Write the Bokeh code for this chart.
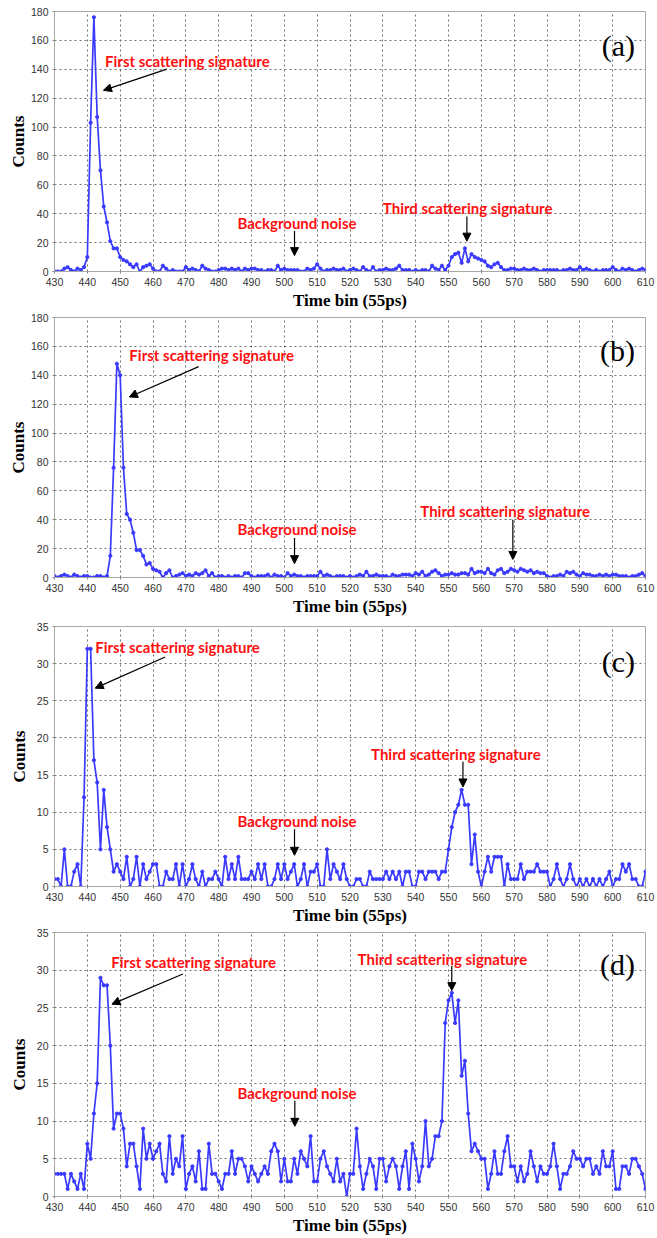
from bokeh.plotting import figure
from bokeh.layouts import column
from bokeh.models import Range1d, FixedTicker, Label, Arrow, NormalHead
from bokeh.embed import file_html
from bokeh.resources import INLINE

bins = list(range(430, 611))

counts_a = [0,0,0,2,3,1,0,2,1,3,
            10,103,176,107,70,45,34,21,16,16,
            10,8,7,5,3,5,0,3,4,5,
            2,0,0,4,2,0,1,0,0,0,
            3,1,2,1,0,4,2,1,0,0,
            1,2,2,1,2,1,2,0,2,1,
            2,2,1,1,0,1,1,0,4,1,
            2,1,1,1,1,0,0,2,1,2,
            5,2,0,1,1,2,1,1,2,0,
            1,2,1,0,3,1,0,3,0,1,
            1,2,1,1,2,4,1,1,1,0,
            1,0,1,1,0,4,2,1,4,1,
            4,10,12,13,6,16,7,12,10,9,
            8,7,4,3,5,6,3,1,1,2,
            2,1,1,2,1,1,2,1,0,1,
            1,1,1,1,0,1,1,2,1,1,
            3,1,2,1,0,1,0,1,1,1,
            3,1,0,2,1,2,1,0,1,2,1]

counts_b = [1,0,1,2,1,0,2,1,0,1,
            1,0,0,1,1,0,1,15,76,148,
            140,76,44,40,31,19,19,15,9,10,
            6,5,4,0,3,5,0,1,2,3,
            1,2,1,3,2,3,5,1,3,0,
            1,1,0,1,0,1,1,0,3,3,
            1,0,1,1,1,2,0,2,1,1,
            0,3,1,2,1,1,0,1,1,1,
            1,4,1,2,1,0,1,1,1,0,
            1,0,1,2,1,4,1,1,2,1,
            1,1,0,2,1,1,2,2,2,1,
            3,2,4,1,2,4,5,3,1,2,
            2,3,2,2,3,3,2,6,3,4,
            4,3,6,3,2,5,6,3,4,6,
            5,4,6,5,4,5,3,4,3,3,
            1,0,1,1,2,1,4,3,4,2,
            1,3,2,2,1,1,2,1,2,1,
            2,2,1,1,1,0,1,1,2,3,1]

counts_c = [1,1,0,5,0,0,2,3,0,12,
            32,32,17,14,5,13,8,5,2,3,
            2,1,4,0,1,4,0,3,1,2,
            3,3,0,0,2,1,1,3,0,3,
            0,1,3,1,0,2,0,1,1,2,
            1,0,4,1,3,1,4,1,1,1,
            2,1,3,1,3,0,0,1,3,1,
            3,1,2,3,0,1,3,0,2,2,
            3,0,0,5,1,3,2,1,3,1,
            0,0,1,1,0,0,2,1,1,1,
            1,2,1,2,1,2,0,2,2,0,
            0,2,2,1,2,2,2,1,2,2,
            5,8,10,11,13,11,11,3,7,2,
            0,2,4,2,4,4,4,0,3,1,
            1,1,3,1,2,2,2,3,2,2,
            2,0,1,3,1,0,1,3,1,0,
            1,0,1,0,1,0,1,0,1,2,
            0,1,1,3,2,3,1,1,0,0,2]

counts_d = [3,3,3,3,1,3,2,1,3,1,
            7,5,11,15,29,28,28,20,9,11,
            11,9,4,7,7,4,1,9,5,7,
            5,6,7,3,2,8,3,5,4,8,
            1,3,4,2,6,1,1,7,3,3,
            2,1,3,3,6,3,5,5,4,2,
            4,3,2,3,4,3,6,7,6,2,
            5,2,2,5,3,6,5,4,8,2,
            2,5,6,4,3,2,5,2,3,0,
            3,3,9,4,1,3,5,4,1,5,
            5,2,4,5,4,1,4,6,1,7,
            5,2,4,10,4,5,8,8,10,23,
            26,27,23,26,16,18,11,6,7,6,
            5,5,1,3,6,3,3,6,8,4,
            4,2,4,2,3,6,4,2,4,3,
            3,4,7,4,1,3,3,4,6,5,
            5,4,5,5,3,4,3,6,4,4,
            6,1,1,4,4,3,5,5,4,3,1]

for arr in (counts_a, counts_b, counts_c, counts_d):
    assert len(arr) == len(bins), len(arr)

panel_letters = ["(a)", "(b)", "(c)", "(d)"]
y_max = [180, 180, 35, 35]
y_step = [20, 20, 5, 5]

# annotation anchors (data coords)
first_txt = [(445.4, 146.0), (452.8, 154.0), (442.4, 32.3), (447.3, 31.1)]
first_arrow = [(464.2, 140.1, 444.9, 125.4), (473.9, 146.0, 452.8, 125.0),
               (463.7, 30.9, 442.4, 26.7), (469.1, 29.5, 447.5, 25.5)]
noise_txt = [(485.7, 33.5), (485.7, 33.5), (485.7, 8.8), (485.7, 13.7)]
noise_arrow = [(503.1, 28.1, 503.1, 11.0), (503.1, 27.4, 503.1, 9.6),
               (503.1, 7.7, 503.1, 4.2), (503.2, 12.7, 503.2, 9.3)]
third_txt = [(530.0, 44.3), (541.4, 46.1), (526.4, 17.9), (522.3, 31.5)]
third_arrow = [(555.6, 38.1, 555.6, 21.0), (569.6, 39.9, 569.6, 12.5),
               (554.4, 16.8, 554.4, 13.4), (551.0, 30.6, 551.0, 27.3)]
letter_pos = [(606.8, 156.7), (606.8, 157.4), (606.8, 30.3), (606.8, 30.8)]

# figure geometry: (height, top border, bottom border)
geom = [(312, 11, 38), (306, 5, 38), (309, 8, 38), (311, 5, 42)]

BLUE = "#3a3aff"
RED = "#ff1010"

figs = []
for i, counts in enumerate([counts_a, counts_b, counts_c, counts_d]):
    h, bt, bb = geom[i]
    p = figure(width=657, height=h, output_backend="svg", toolbar_location=None,
               x_range=Range1d(430, 610), y_range=Range1d(0, y_max[i]),
               min_border_left=54, min_border_right=12,
               min_border_top=bt, min_border_bottom=bb)
    p.background_fill_color = "white"
    p.border_fill_color = "white"
    p.outline_line_color = "#a8a8a8"
    p.outline_line_width = 1

    p.xaxis.ticker = FixedTicker(ticks=list(range(430, 611, 10)))
    p.yaxis.ticker = FixedTicker(ticks=list(range(0, y_max[i] + 1, y_step[i])))
    for g in (p.xgrid, p.ygrid):
        g.grid_line_color = "#707070"
        g.grid_line_dash = "2 3"
        g.grid_line_width = 1
    for ax in (p.xaxis, p.yaxis):
        ax.axis_line_color = "#a8a8a8"
        ax.major_tick_line_color = "#888888"
        ax.major_tick_out = 2
        ax.major_tick_in = 0
        ax.minor_tick_line_color = None
        ax.major_label_text_font = "Liberation Sans"
        ax.major_label_text_font_size = "10.5px"
        ax.major_label_text_color = "#333333"
        ax.major_label_standoff = 4
        ax.axis_label_text_font = "Liberation Serif"
        ax.axis_label_text_font_style = "bold"
        ax.axis_label_text_font_size = "17px"
        ax.axis_label_text_color = "black"
    p.xaxis.axis_label = "Time bin (55ps)"
    p.xaxis.axis_label_standoff = 2
    p.yaxis.axis_label = "Counts"
    p.yaxis.axis_label_standoff = 0 if y_max[i] > 100 else 5

    p.line(bins, counts, line_color=BLUE, line_width=1.7)
    p.scatter(bins, counts, size=3.2, color=BLUE)

    def add_text(txt, x, y):
        p.add_layout(Label(x=x, y=y, text=txt, text_font="Lato", text_font_style="bold",
                           text_font_size="15px", text_color=RED,
                           text_baseline="middle", text_align="left"))

    def add_arrow(x0, y0, x1, y1):
        p.add_layout(Arrow(x_start=x0, y_start=y0, x_end=x1, y_end=y1,
                           line_color="black", line_width=1.2,
                           end=NormalHead(size=8, fill_color="black", line_color="black")))

    add_text("First scattering signature", *first_txt[i])
    add_arrow(*first_arrow[i])
    add_text("Background noise", *noise_txt[i])
    add_arrow(*noise_arrow[i])
    add_text("Third scattering signature", *third_txt[i])
    add_arrow(*third_arrow[i])

    lx, ly = letter_pos[i]
    p.add_layout(Label(x=lx, y=ly, text=panel_letters[i], text_font="Liberation Serif",
                       text_font_size="30px", text_color="black",
                       text_baseline="middle", text_align="right"))
    figs.append(p)

layout = column(*figs, spacing=0)
open("out.html", "w").write(file_html(layout, INLINE))
